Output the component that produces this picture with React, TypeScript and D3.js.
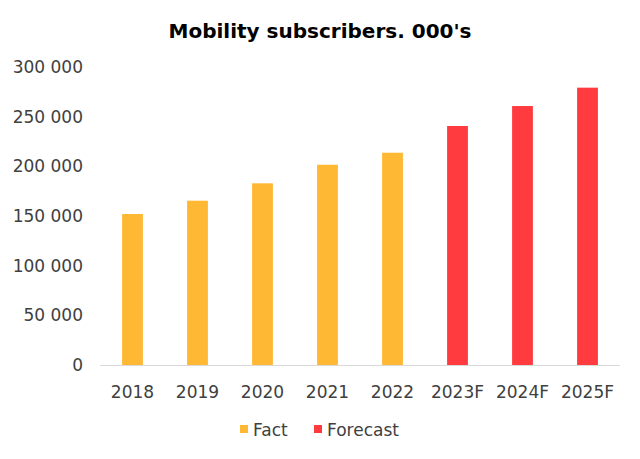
import React from "react";
import * as d3 from "d3";

const categories = ["2018", "2019", "2020", "2021", "2022", "2023F", "2024F", "2025F"];
const values = [152000, 165400, 182900, 201600, 213700, 240600, 260700, 279200];
const seriesKind = ["Fact", "Fact", "Fact", "Fact", "Fact", "Forecast", "Forecast", "Forecast"];
const yTicks = [0, 50000, 100000, 150000, 200000, 250000, 300000];
const legendItems = ["Fact", "Forecast"];
const colors: Record<string, string> = { Fact: "#FFB833", Forecast: "#FF3B3F" };

const W = 640;
const H = 459;
const FONT = "'DejaVu Sans', sans-serif";

export default function App() {
  const x = d3.scaleBand<string>().domain(categories).range([100, 620]).paddingInner(0.68).paddingOuter(0.34);
  const y = d3.scaleLinear().domain([0, 300000]).range([365, 67]);
  const fmt = (v: number) => d3.format(",")(v).replace(/,/g, " ");

  return (
    <svg width={W} height={H} style={{ position: "absolute", left: 0, top: 0, background: "#fff" }}>
      <text x={320} y={38} textAnchor="middle" fontFamily={FONT} fontWeight="bold" fontSize={20} fill="#000">
        Mobility subscribers. 000's
      </text>
      {yTicks.map((t) => (
        <text key={t} x={83} y={y(t)} dy="0.35em" textAnchor="end" fontFamily={FONT} fontSize={17} fill="#404040">
          {fmt(t)}
        </text>
      ))}
      {categories.map((c, i) => (
        <rect
          key={c}
          x={x(c)}
          y={y(values[i])}
          width={x.bandwidth()}
          height={y(0) - y(values[i])}
          fill={colors[seriesKind[i]]}
        />
      ))}
      <line x1={100} x2={620} y1={y(0) + 0.5} y2={y(0) + 0.5} stroke="#D9D9D9" strokeWidth={1} />
      {categories.map((c) => (
        <text key={c} x={(x(c) ?? 0) + x.bandwidth() / 2} y={398} textAnchor="middle" fontFamily={FONT} fontSize={17} fill="#404040">
          {c}
        </text>
      ))}
      {legendItems.map((l, i) => {
        const lx = i === 0 ? 240 : 314;
        return (
          <g key={l}>
            <rect x={lx} y={425} width={8} height={8} fill={colors[l]} />
            <text x={lx + 13} y={436} fontFamily={FONT} fontSize={17} fill="#404040">
              {l}
            </text>
          </g>
        );
      })}
    </svg>
  );
}
